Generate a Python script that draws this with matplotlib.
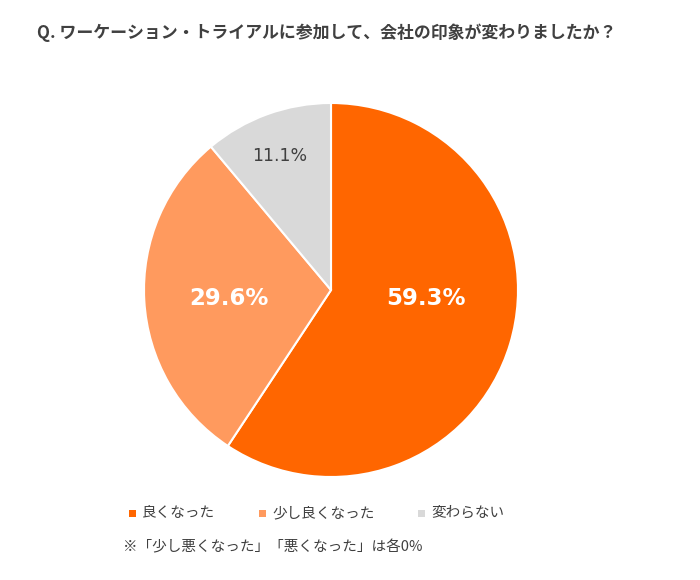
import matplotlib
matplotlib.use("Agg")
import matplotlib.pyplot as plt
from matplotlib.patches import Rectangle

title = "Q. ワーケーション・トライアルに参加して、会社の印象が変わりましたか？"
categories = ["良くなった", "少し良くなった", "変わらない"]
values = [59.3, 29.6, 11.1]
colors = ["#FF6600", "#FF9A5E", "#D9D9D9"]
note = "※「少し悪くなった」「悪くなった」は各0%"

JP = ["Noto Sans CJK JP", "DejaVu Sans"]
plt.rcParams["font.family"] = JP

fig = plt.figure(figsize=(7, 5.8), dpi=100)
fig.patch.set_facecolor("white")

ax = fig.add_axes([(331 - 187) / 700, (580 - 290 - 187) / 580,
                   374 / 700, 374 / 580])
wedges, _ = ax.pie(values, colors=colors, startangle=90, counterclock=False,
                   wedgeprops=dict(edgecolor="white", linewidth=1.5), radius=1.0)
ax.set_xlim(-1, 1)
ax.set_ylim(-1, 1)
ax.set_aspect("equal")
ax.axis("off")

label_pos = [(0.51, -0.045), (-0.545, -0.045), (-0.273, 0.717)]
label_style = [dict(color="white", fontsize=16.5, fontweight="bold"),
               dict(color="white", fontsize=16.5, fontweight="bold"),
               dict(color="#404040", fontsize=12.5)]
for v, (x, y), st in zip(values, label_pos, label_style):
    ax.text(x, y, f"{v:.1f}%", ha="center", va="center",
            family=["DejaVu Sans"], **st)

fig.text(37 / 700, 1 - 33 / 580, title, ha="left", va="center",
         fontsize=12.2, fontweight="bold", color="#404040", family=JP)

leg_x = [132, 262, 421]
leg_y = 513
for cat, col, lx in zip(categories, colors, leg_x):
    fig.patches.append(Rectangle(((lx - 3.5) / 700, 1 - (leg_y + 3.5) / 580),
                                 7 / 700, 7 / 580, transform=fig.transFigure,
                                 facecolor=col, edgecolor="none"))
    fig.text((lx + 10) / 700, 1 - leg_y / 580, cat, ha="left", va="center",
             fontsize=10.5, color="#404040", family=JP)

fig.text(123 / 700, 1 - 547 / 580, note, ha="left", va="center",
         fontsize=10.5, color="#404040", family=JP)

fig.savefig("out.png", dpi=100, facecolor="white")
